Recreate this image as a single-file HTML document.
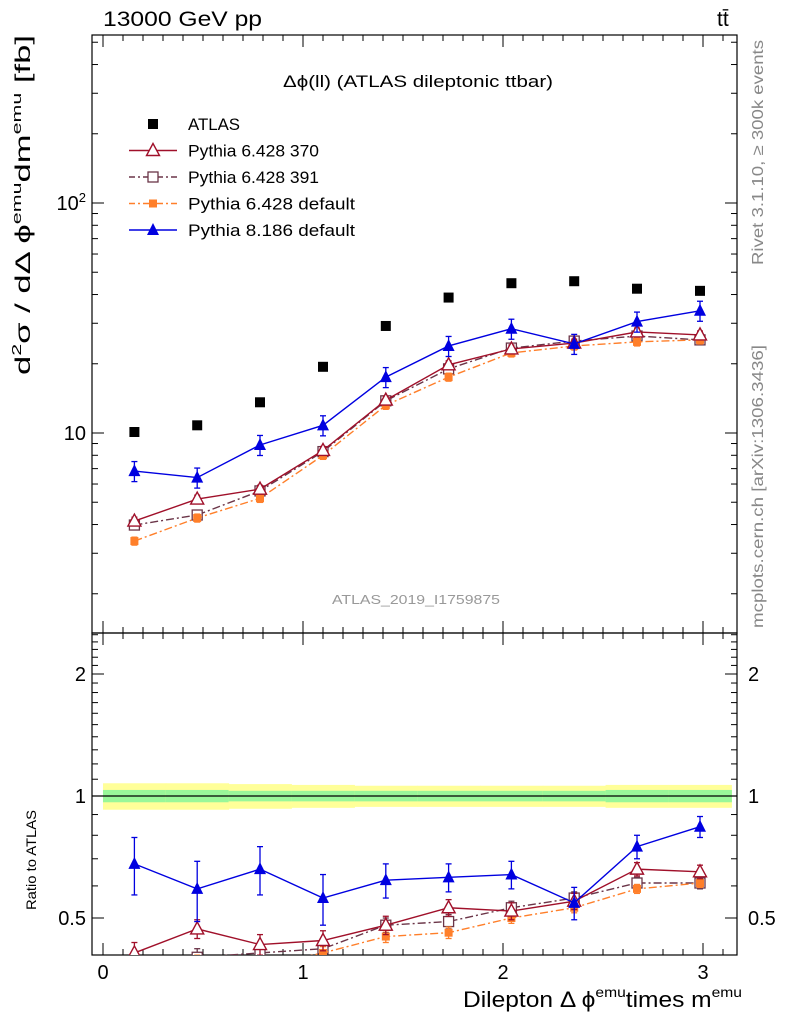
<!DOCTYPE html>
<html><head><meta charset="utf-8"><style>
body{margin:0;background:#fff}
svg{font-family:"Liberation Sans",sans-serif;display:block}
</style></head><body>
<svg id="c" width="786" height="1024" viewBox="0 0 786 1024">
<g id="bg"></g>
<text x="103" y="26" font-size="21" textLength="159" lengthAdjust="spacingAndGlyphs">13000 GeV pp</text>
<text x="717" y="26" font-size="21">tt̄</text>
<text x="283" y="87" font-size="17" textLength="270" lengthAdjust="spacingAndGlyphs">Δϕ(ll) (ATLAS dileptonic ttbar)</text>
<text x="332" y="604" font-size="13" fill="#999" textLength="168" lengthAdjust="spacingAndGlyphs">ATLAS_2019_I1759875</text>
<text transform="translate(763,265) rotate(-90)" font-size="16" fill="#888" textLength="225" lengthAdjust="spacingAndGlyphs">Rivet 3.1.10, ≥ 300k events</text>
<text transform="translate(763,628) rotate(-90)" font-size="16" fill="#888" textLength="283" lengthAdjust="spacingAndGlyphs">mcplots.cern.ch [arXiv:1306.3436]</text>
<text transform="translate(30,375) rotate(-90)" font-size="21" textLength="340" lengthAdjust="spacingAndGlyphs">d<tspan font-size="13" dy="-9">2</tspan><tspan dy="9">σ / dΔ ϕ</tspan><tspan font-size="13" dy="-9">emu</tspan><tspan dy="9">dm</tspan><tspan font-size="13" dy="-9">emu</tspan><tspan dy="9"> [fb]</tspan></text>
<text transform="translate(36,910) rotate(-90)" font-size="14" textLength="100" lengthAdjust="spacingAndGlyphs">Ratio to ATLAS</text>
<text x="463" y="1007" font-size="22" textLength="279" lengthAdjust="spacingAndGlyphs">Dilepton Δ ϕ<tspan font-size="14" dy="-10">emu</tspan><tspan dy="10">times m</tspan><tspan font-size="14" dy="-10">emu</tspan></text>
<g id="g"></g>
</svg>
<script>
const xCenters=[0.157,0.471,0.785,1.100,1.414,1.728,2.042,2.356,2.670,2.985];
const atlas=[10.1,10.8,13.6,19.4,29.2,38.8,44.8,45.7,42.4,41.5];
const p370=[4.14,5.16,5.7,8.4,13.9,19.8,23.2,24.6,27.5,26.7];
const p391=[3.98,4.4,5.6,8.3,13.8,19.0,23.4,25.1,26.4,25.4];
const pdef=[3.39,4.27,5.2,8.0,13.2,17.5,22.3,23.9,24.9,25.4];
const p8=[6.83,6.4,8.87,10.8,17.5,23.9,28.4,24.4,30.5,34.0];
const r370=[0.41,0.47,0.43,0.44,0.48,0.53,0.52,0.55,0.66,0.65];
const r391=[0.39,0.40,0.41,0.42,0.48,0.49,0.53,0.56,0.61,0.61];
const rdef=[0.34,0.39,0.38,0.41,0.45,0.46,0.50,0.53,0.59,0.61];
const r8=[0.68,0.59,0.66,0.56,0.62,0.63,0.64,0.545,0.75,0.84];
const r8err=[0.11,0.10,0.09,0.08,0.06,0.05,0.05,0.05,0.05,0.05];
const bandYellow=[0.075,0.075,0.07,0.065,0.06,0.06,0.06,0.06,0.065,0.065];
const bandGreen=[0.035,0.035,0.03,0.03,0.03,0.03,0.03,0.03,0.035,0.035];
const xTicks=[0,1,2,3];
const ratioTicks=[0.5,1,2];

const L=92,R=737,T=35,M=633,B=955;
const X=v=>103+200*v;
const Y=v=>433-230*(Math.log10(v)-1);
const YR=v=>796-122*Math.log2(v);
const NS="http://www.w3.org/2000/svg";
const g=document.getElementById('g'), bg=document.getElementById('bg');
function mk(tag,at,par){const e=document.createElementNS(NS,tag);for(const k in at)e.setAttribute(k,at[k]);(par||g).appendChild(e);return e;}

const defs=mk('defs',{});
const c1=mk('clipPath',{id:'cm'},defs);mk('rect',{x:L,y:T,width:R-L,height:M-T},c1);
const c2=mk('clipPath',{id:'cr'},defs);mk('rect',{x:L,y:M,width:R-L,height:B-M},c2);

const hw=Math.PI/20;
xCenters.forEach((x,i)=>{
  const y=mk('rect',{x:X(x-hw),width:X(x+hw)-X(x-hw)+0.5,y:YR(1+bandYellow[i]),height:YR(1-bandYellow[i])-YR(1+bandYellow[i]),fill:'#ffff99'},bg);
  
  
  const gr=mk('rect',{x:X(x-hw),width:X(x+hw)-X(x-hw)+0.5,y:YR(1+bandGreen[i]),height:YR(1-bandGreen[i])-YR(1+bandGreen[i]),fill:'#99f799'},bg);
  
  
});
const one=mk('line',{x1:L,x2:R,y1:YR(1),y2:YR(1),stroke:'#000','stroke-width':1.3});



const f1=mk('rect',{x:L,y:T,width:R-L,height:M-T,fill:'none',stroke:'#000','stroke-width':1.2});


const f2=mk('rect',{x:L,y:M,width:R-L,height:B-M,fill:'none',stroke:'#000','stroke-width':1.2});



for(let v=0;v<=3.2;v+=0.1){const xx=X(v);if(xx<L||xx>R)continue;const maj=Math.abs(v-Math.round(v))<1e-6;const len=maj?12:6;
  [[M,-1],[T,1],[B,-1],[M,1]].forEach(([y0,d])=>mk('line',{x1:xx,x2:xx,y1:y0,y2:y0+d*len,stroke:'#000'}));}
xTicks.forEach(v=>{const t=mk('text',{x:X(v),y:979,'font-size':20,'text-anchor':'middle'});t.textContent=v;
  
  });

for(let d=0;d<=3;d++)for(let m=1;m<=9;m++){const v=m*Math.pow(10,d);const y=Y(v);if(y<T||y>M)continue;const len=m==1?12:6;
  mk('line',{x1:L,x2:L+len,y1:y,y2:y,stroke:'#000'});mk('line',{x1:R,x2:R-len,y1:y,y2:y,stroke:'#000'});}
[[10,'10'],[100,'10']].forEach(([v,s],i)=>{const t=mk('text',{x:86,y:Y(v)+7,'font-size':20,'text-anchor':'end'});t.textContent=s;
  if(i==1){const sp=document.createElementNS(NS,'tspan');sp.setAttribute('font-size',13);sp.setAttribute('dy',-8);sp.textContent='2';t.appendChild(sp);}
  
  });

for(let v=0.4;v<=2.55;v+=0.1){const y=YR(v);if(y<M||y>B)continue;const maj=ratioTicks.some(r=>Math.abs(r-v)<1e-6);const len=maj?12:6;
  mk('line',{x1:L,x2:L+len,y1:y,y2:y,stroke:'#000'});mk('line',{x1:R,x2:R-len,y1:y,y2:y,stroke:'#000'});}
ratioTicks.forEach(v=>{[[86,'end'],[748,'start']].forEach(([x,a])=>{const t=mk('text',{x:x,y:YR(v)+7,'font-size':20,'text-anchor':a});t.textContent=v;
  
  });});

function marker(type,x,y,col,par){
  if(type=='sq')return mk('rect',{x:x-5,y:y-5,width:10,height:10,fill:col},par);
  if(type=='osq')return mk('rect',{x:x-5,y:y-5,width:10,height:10,fill:'#fff',stroke:col,'stroke-width':1.3},par);
  if(type=='fsq')return mk('rect',{x:x-4,y:y-4,width:8,height:8,fill:col},par);
  if(type=='otri')return mk('polygon',{points:`${x},${y-7} ${x-6.5},${y+5} ${x+6.5},${y+5}`,fill:'#fff',stroke:col,'stroke-width':1.4},par);
  if(type=='tri')return mk('polygon',{points:`${x},${y-7} ${x-6},${y+5} ${x+6},${y+5}`,fill:col},par);
}
function series(vals,Yf,col,dash,type,name,clip,err){
  const grp=mk('g',{'clip-path':`url(#${clip})`});
  
  
  if(dash!==null){const pts=vals.map((v,i)=>X(xCenters[i])+','+Yf(v)).join(' ');
    mk('polyline',{points:pts,fill:'none',stroke:col,'stroke-width':1.4,'stroke-dasharray':dash},grp);}
  vals.forEach((v,i)=>{const x=X(xCenters[i]),y=Yf(v);
    if(err){const e=err(v,i);const y1=Yf(v+e),y2=Yf(v-e);mk('line',{x1:x,x2:x,y1:y1,y2:y2,stroke:col,'stroke-width':1.3},grp);
      mk('line',{x1:x-3,x2:x+3,y1:y1,y2:y1,stroke:col,'stroke-width':1.3},grp);mk('line',{x1:x-3,x2:x+3,y1:y2,y2:y2,stroke:col,'stroke-width':1.3},grp);}
    const m=marker(type,x,y,col,grp);
    
    });
}
const red='#a0102a',plum='#6b3548',orng='#ff7f2a',blue='#0000e0';
series(p391,Y,plum,'8,3,2,3','osq','pythia6-391-main','cm',v=>v*0.04);
series(pdef,Y,orng,'8,3,2,3','fsq','pythia6-default-main','cm',v=>v*0.04);
series(p370,Y,red,'','otri','pythia6-370-main','cm',v=>v*0.04);
series(p8,Y,blue,'','tri','pythia8-main','cm',v=>v*0.1);
series(atlas,Y,'#000',null,'sq','atlas-data','cm');
series(r391,YR,plum,'8,3,2,3','osq','pythia6-391-ratio','cr',v=>0.02);
series(rdef,YR,orng,'8,3,2,3','fsq','pythia6-default-ratio','cr',v=>0.015);
series(r370,YR,red,'','otri','pythia6-370-ratio','cr',v=>0.025);
series(r8,YR,blue,'','tri','pythia8-ratio','cr',(v,i)=>r8err[i]);

const leg=[['ATLAS','#000',null,'sq',52],['Pythia 6.428 370',red,'','otri',131],['Pythia 6.428 391',plum,'6,3,2,3','osq',131],['Pythia 6.428 default',orng,'6,3,2,3','fsq',167],['Pythia 8.186 default',blue,'','tri',167]];
leg.forEach(([lab,col,dash,type,w],i)=>{const y=124+i*26.5;const lg=mk('g',{});
  
  
  if(dash!==null)mk('line',{x1:129,x2:177,y1:y,y2:y,stroke:col,'stroke-width':1.4,'stroke-dasharray':dash},lg);
  marker(type,153,y,col,lg);
  const t=mk('text',{x:188,y:y+6,'font-size':17,textLength:w,lengthAdjust:'spacingAndGlyphs'},lg);t.textContent=lab;});
</script>
</body></html>
